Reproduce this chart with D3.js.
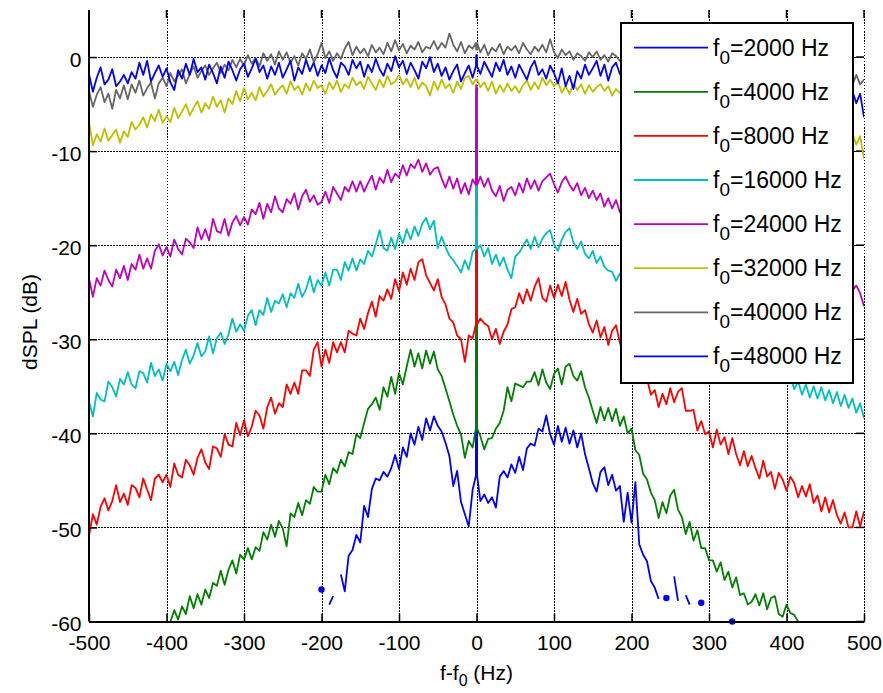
<!DOCTYPE html>
<html>
<head>
<meta charset="utf-8">
<script src="https://cdn.jsdelivr.net/npm/d3@7"></script>
<style>
  body { margin: 0; background: #fff; }
  text { font-family: Arial, "Liberation Sans", Helvetica, sans-serif; fill: #000; }
</style>
</head>
<body>
<svg id="chart" width="883" height="693"></svg>
<script>
// Sideband level relative to the carrier, sampled every 5 Hz around f0.
const freqStep = 5;
const carrierFreqs = ["2000", "4000", "8000", "16000", "24000", "32000", "40000", "48000"];
const seriesColors = ["#0000ff", "#008000", "#ff0000", "#00bfbf", "#bf00bf", "#bfbf00", "#666666", "#0000ff"];
// first frequency offset (Hz) of each series array
const seriesStart = [-200, -395, -500, -500, -500, -500, -500, -500];
// level of the carrier line at f - f0 = 0 (dB)
const carrierPeak = [-3.5, -3.5, -3.5, -3.5, -3.0, -2.5, 0.8, 0.2];

const spl2000 = [
  -56.6,null,-58.2,-57.3,null,-55.0,-56.8,-53.0,-52.4,-50.8,
  -51.6,-47.7,-48.9,-45.9,-44.8,-45.0,-44.1,-44.6,-43.7,-42.3,
  -43.8,-41.5,-42.5,-40.0,-41.2,-39.3,-40.7,-38.4,-39.7,-38.2,
  -39.2,-39.8,-41.0,-42.4,-45.6,-44.0,-47.3,-48.6,-49.9,-46.0,
  -44.5,-47.2,-46.5,-47.4,-46.8,-47.9,-44.6,-44.0,-44.7,-43.3,
  -44.2,-42.5,-43.9,-41.6,-41.1,-41.3,-39.5,-39.8,-38.1,-40.1,
  -41.2,-39.2,-40.9,-39.4,-41.1,-39.7,-41.5,-40.0,-42.2,-43.7,
  -45.3,-46.2,-44.1,-43.6,-45.5,-44.4,-46.1,-45.6,-49.4,-46.3,
  -49.5,-45.2,-51.8,-52.9,-53.6,-55.7,-56.4,-57.6,null,-57.5,
  null,-55.2,-57.8,null,-57.2,-58.2,null,null,-58.0,null,
  null,null,null,null,null,null,-60.0
];
const spl4000 = [
  -60.0,-58.8,-59.8,-58.4,-59.2,-57.3,-58.6,-57.1,-58.2,-56.6,
  -57.5,-55.9,-56.2,-54.6,-56.1,-54.5,-53.5,-54.9,-52.9,-53.4,
  -52.2,-53.4,-52.1,-52.5,-50.5,-51.3,-49.7,-51.0,-49.3,-50.1,
  -52.0,-48.5,-48.9,-47.4,-48.7,-47.1,-47.5,-45.7,-46.2,-46.2,
  -44.4,-45.4,-43.7,-44.2,-42.8,-43.5,-42.0,-42.2,-40.1,-40.5,
  -38.9,-37.4,-36.9,-36.2,-37.5,-35.1,-36.1,-34.0,-35.8,-33.6,
  -34.8,-32.9,-31.1,-32.9,-31.5,-33.1,-31.2,-32.6,-31.3,-33.2,
  -33.9,-35.2,-36.6,-38.0,-39.2,-40.1,-42.6,-40.8,-41.5,-39.5,
  -40.3,-41.7,-40.6,-40.5,-39.5,-38.9,-37.6,-35.1,-36.6,-34.7,
  -34.9,-35.1,-34.5,-34.5,-33.5,-34.9,-33.2,-34.6,-35.3,-33.7,
  -33.1,-34.8,-32.9,-32.6,-33.9,-34.4,-33.4,-35.1,-36.2,-37.6,
  -38.9,-37.2,-38.6,-37.3,-38.7,-37.4,-39.2,-38.2,-40.0,-39.5,
  -41.8,-42.3,-44.3,-44.9,-46.3,-47.1,-49.0,-47.3,-48.5,-46.6,
  -46.0,-48.1,-48.9,-50.7,-49.4,-51.4,-50.3,-52.2,-52.2,-53.5,
  -53.5,-54.7,-53.7,-55.6,-54.7,-56.4,-55.3,-57.2,-57.0,-58.2,
  -57.9,-57.1,-58.3,-57.0,-58.7,-57.5,-57.3,-59.2,-59.5,-58.2,
  -59.1,-59.3,-60.0
];
const spl8000 = [
  -50.9,-48.6,-49.7,-47.8,-46.9,-48.2,-47.2,-45.5,-47.3,-46.4,
  -47.6,-45.5,-45.8,-46.8,-44.8,-46.0,-47.1,-44.8,-44.4,-45.2,
  -44.4,-45.7,-43.2,-44.4,-44.7,-42.8,-43.4,-44.4,-42.6,-41.7,
  -43.1,-43.8,-41.4,-41.6,-42.5,-40.1,-41.2,-41.4,-38.9,-40.2,
  -38.6,-40.3,-39.3,-37.6,-38.1,-39.5,-37.2,-36.2,-37.9,-36.8,
  -37.2,-34.8,-35.8,-34.6,-35.8,-33.3,-33.3,-33.9,-31.1,-30.3,
  -32.9,-31.1,-32.5,-30.3,-31.4,-30.3,-31.4,-29.1,-29.4,-29.6,
  -27.8,-28.9,-27.2,-26.0,-27.6,-25.4,-25.9,-24.7,-25.7,-23.6,
  -24.9,-22.9,-24.2,-22.5,-23.7,-21.8,-21.5,-23.2,-24.0,-24.8,
  -23.6,-25.5,-26.3,-27.8,-28.2,-29.6,-30.0,-32.4,-29.6,-29.9,
  -28.4,-27.8,-28.3,-28.6,-30.0,-28.9,-30.5,-29.2,-28.4,-26.8,
  -26.6,-25.1,-26.2,-24.7,-25.9,-24.4,-23.5,-25.6,-26.0,-24.3,
  -25.6,-24.2,-25.4,-23.9,-25.8,-27.1,-25.7,-27.3,-26.9,-28.4,
  -29.3,-28.0,-29.8,-28.7,-30.6,-29.1,-28.5,-30.4,-31.2,-32.0,
  -31.8,-33.1,-33.2,-34.0,-34.2,-35.9,-35.4,-37.2,-35.8,-36.9,
  -35.2,-36.7,-35.6,-35.2,-37.6,-37.6,-37.5,-39.7,-38.7,-40.1,
  -39.8,-41.5,-39.6,-41.2,-40.4,-42.2,-40.5,-42.2,-43.4,-41.9,
  -43.5,-42.4,-43.7,-44.8,-42.9,-44.6,-44.1,-45.9,-44.2,-44.9,
  -46.1,-44.6,-45.3,-46.8,-45.6,-46.7,-45.4,-47.4,-46.6,-48.3,
  -46.8,-48.4,-47.1,-48.7,-49.6,-48.4,-50.0,-50.0,-48.3,-49.9,
  -48.3
];
const spl16000 = [
  -36.6,-38.2,-35.7,-36.4,-36.6,-34.5,-35.1,-36.1,-34.2,-34.8,
  -33.5,-34.8,-35.2,-33.4,-33.6,-34.6,-32.5,-33.9,-33.2,-34.4,
  -32.6,-33.4,-32.4,-33.8,-32.2,-31.1,-32.6,-31.7,-30.4,-31.8,
  -31.3,-29.7,-31.5,-29.9,-29.3,-30.5,-29.5,-27.8,-29.2,-28.4,
  -29.1,-27.5,-26.9,-28.5,-26.9,-27.4,-25.6,-27.1,-25.9,-26.2,
  -25.2,-26.6,-25.1,-25.6,-24.1,-25.5,-24.7,-23.3,-25.0,-23.7,
  -24.3,-22.9,-24.3,-22.6,-22.6,-23.7,-21.8,-22.7,-21.4,-22.7,
  -21.5,-22.0,-20.6,-21.2,-19.9,-18.4,-20.3,-20.6,-19.2,-20.4,
  -18.8,-19.8,-18.3,-19.4,-18.0,-19.0,-17.7,-17.1,-18.3,-17.4,
  -20.3,-19.1,-20.2,-21.1,-21.6,-22.2,-22.9,-21.6,-22.6,-20.7,
  -20.4,-20.0,-21.2,-20.3,-22.0,-21.0,-22.2,-21.3,-22.6,-23.5,
  -21.2,-20.8,-20.1,-19.4,-20.4,-19.1,-20.2,-19.3,-18.7,-18.4,
  -19.9,-20.6,-19.4,-18.6,-18.2,-19.7,-20.4,-19.6,-20.9,-21.4,
  -20.6,-21.9,-21.2,-22.3,-22.7,-22.8,-23.8,-23.0,-24.2,-23.5,
  -24.4,-24.1,-25.0,-24.6,-25.5,-25.2,-26.1,-25.7,-26.6,-26.2,
  -27.1,-26.7,-27.6,-27.3,-28.2,-27.8,-28.6,-28.3,-29.2,-28.8,
  -29.7,-29.4,-30.2,-29.8,-30.7,-30.4,-31.2,-30.9,-31.7,-31.4,
  -32.2,-31.9,-32.7,-32.4,-33.2,-32.8,-33.7,-33.3,-34.1,-33.8,
  -34.6,-34.0,-35.3,-34.5,-35.9,-34.8,-36.2,-35.0,-36.3,-35.1,
  -36.5,-35.4,-36.8,-35.6,-37.1,-35.9,-37.3,-36.3,-37.8,-36.8,
  -38.4
];
const spl24000 = [
  -23.5,-25.5,-23.5,-24.3,-22.7,-23.7,-24.4,-22.6,-23.5,-22.2,
  -23.7,-22.0,-22.6,-21.0,-22.5,-21.4,-22.5,-20.6,-19.9,-21.1,
  -20.2,-21.2,-19.4,-20.4,-21.0,-19.3,-19.7,-20.3,-18.1,-19.4,
  -18.3,-19.5,-17.2,-18.5,-18.7,-17.2,-19.0,-17.6,-16.9,-17.9,
  -17.0,-17.8,-16.2,-16.7,-15.5,-17.2,-15.6,-16.5,-14.8,-16.1,
  -16.5,-15.1,-15.6,-14.5,-16.2,-14.8,-14.1,-15.4,-14.7,-15.7,
  -15.4,-14.3,-15.5,-13.8,-14.5,-15.2,-13.8,-14.3,-13.2,-14.3,
  -13.2,-14.3,-13.4,-12.6,-14.1,-12.8,-13.4,-12.0,-13.3,-12.4,
  -12.8,-11.5,-12.6,-11.4,-11.8,-10.9,-12.2,-11.3,-12.5,-11.9,
  -11.7,-12.9,-13.9,-12.7,-14.0,-12.9,-14.5,-13.4,-14.6,-13.0,
  -13.6,-12.7,-13.8,-12.9,-14.2,-14.8,-13.7,-15.3,-14.1,-13.8,
  -14.7,-13.4,-14.4,-12.9,-14.0,-13.1,-14.2,-13.2,-12.8,-12.4,
  -13.5,-14.4,-13.3,-12.7,-13.6,-14.2,-13.4,-14.7,-13.9,-15.0,
  -14.2,-15.2,-14.5,-15.9,-15.0,-16.1,-15.2,-16.5,-15.8,-16.6,
  -16.2,-16.9,-16.5,-17.3,-16.9,-17.6,-17.2,-18.0,-17.6,-18.3,
  -17.9,-18.7,-18.3,-19.0,-18.6,-19.4,-19.0,-19.7,-19.3,-20.1,
  -19.6,-20.4,-20.0,-20.7,-20.3,-21.0,-20.6,-21.3,-20.9,-21.6,
  -21.2,-21.9,-21.5,-22.2,-21.8,-22.5,-22.1,-22.8,-22.4,-23.0,
  -22.6,-23.2,-22.9,-23.5,-23.1,-23.7,-23.3,-23.9,-23.5,-24.1,
  -23.7,-24.3,-23.9,-24.5,-24.0,-24.6,-24.2,-24.8,-24.3,-25.1,
  -26.5
];
const spl32000 = [
  -6.9,-9.4,-8.2,-9.0,-7.6,-8.9,-8.3,-7.7,-9.1,-7.9,
  -8.5,-6.9,-7.7,-7.2,-6.4,-7.5,-6.1,-6.8,-5.6,-7.0,
  -6.3,-6.9,-5.4,-6.5,-5.8,-5.0,-6.2,-5.4,-4.7,-5.9,
  -4.9,-5.5,-4.2,-5.3,-4.6,-5.9,-4.4,-5.0,-3.6,-4.7,
  -3.3,-4.5,-3.8,-4.6,-3.2,-4.2,-3.6,-2.9,-4.0,-3.4,
  -3.0,-3.9,-2.6,-3.5,-3.1,-4.0,-2.8,-3.6,-2.5,-3.3,
  -3.0,-3.9,-2.7,-3.4,-2.5,-3.7,-2.9,-3.3,-2.2,-3.0,
  -2.6,-3.4,-2.1,-2.8,-3.5,-2.4,-3.2,-2.0,-2.9,-2.6,
  -1.9,-2.9,-2.3,-3.2,-2.2,-3.4,-2.7,-3.1,-4.1,-2.6,
  -3.5,-2.4,-3.3,-2.9,-3.8,-2.6,-3.4,-2.2,-2.0,-2.9,
  -2.4,-3.2,-2.7,-3.6,-2.6,-3.9,-3.0,-3.7,-2.8,-3.6,
  -3.1,-3.8,-3.0,-2.5,-3.5,-2.7,-3.4,-2.2,-3.0,-2.4,
  -3.1,-2.6,-3.8,-3.1,-3.9,-2.8,-3.5,-2.9,-3.9,-3.0,
  -3.7,-3.2,-2.9,-3.6,-3.1,-4.1,-3.4,-3.8,-3.6,-4.0,
  -3.7,-4.1,-3.8,-4.2,-3.9,-4.3,-4.0,-4.4,-4.1,-4.5,
  -4.2,-4.6,-4.3,-4.7,-4.4,-4.8,-4.5,-4.9,-4.6,-5.0,
  -4.7,-5.1,-4.8,-5.2,-4.9,-5.3,-5.0,-5.4,-5.1,-5.5,
  -5.2,-5.6,-5.4,-5.8,-5.5,-5.9,-5.7,-6.1,-5.8,-6.2,
  -6.0,-6.4,-6.1,-6.5,-6.3,-6.7,-6.4,-6.8,-6.6,-7.0,
  -6.7,-7.1,-6.9,-7.3,-7.0,-7.5,-7.3,-8.1,-9.3,-8.4,
  -10.8
];
const spl40000 = [
  -3.6,-5.3,-4.0,-3.2,-4.8,-3.9,-5.5,-3.5,-4.4,-3.0,
  -4.5,-2.9,-3.8,-2.5,-4.1,-3.3,-2.7,-4.4,-2.8,-2.2,
  -3.1,-1.7,-2.6,-2.0,-1.3,-2.8,-1.8,-1.0,-2.2,-1.5,
  -0.9,-1.9,-1.2,-0.6,-1.7,-0.8,-1.4,-0.3,-1.1,-0.2,
  -0.9,0.2,-0.7,-0.1,-1.0,0.4,-0.4,0.3,-0.8,0.6,
  -0.3,0.5,-0.6,0.1,-0.9,0.4,-0.2,0.8,-0.5,0.3,
  1.5,-0.1,0.6,-0.4,0.4,-0.2,0.9,1.6,0.2,1.1,
  0.4,0.9,0.1,1.3,0.5,1.0,0.3,1.5,0.6,1.8,
  0.7,1.4,0.4,1.2,0.8,1.6,0.5,1.1,0.9,1.7,
  0.8,1.5,1.0,2.5,1.3,0.6,1.6,0.4,1.2,0.9,
  1.5,0.5,1.3,0.2,1.0,0.6,1.4,0.3,1.1,0.7,
  1.2,0.4,1.5,0.8,0.3,1.1,0.6,1.3,0.5,1.9,
  0.5,-0.1,0.8,0.2,0.6,-0.3,0.4,0.1,-0.4,0.5,
  0.0,0.6,-0.3,0.2,-0.5,0.4,0.1,-0.4,0.1,-0.5,
  0.0,-0.6,-0.1,-0.7,-0.2,-0.8,-0.3,-0.9,-0.4,-1.0,
  -0.5,-1.1,-0.6,-1.2,-0.7,-1.3,-0.8,-1.4,-0.9,-1.5,
  -1.0,-1.6,-1.1,-1.7,-1.2,-1.8,-1.3,-1.9,-1.4,-2.0,
  -1.5,-2.1,-1.6,-2.2,-1.7,-2.3,-1.8,-2.4,-1.9,-2.5,
  -2.0,-2.6,-2.1,-2.7,-2.2,-2.8,-2.3,-2.9,-2.4,-3.0,
  -2.5,-3.1,-2.6,-3.2,-2.7,-3.3,-2.8,-3.0,-1.9,-2.9,
  -2.4
];
const spl48000 = [
  -1.8,-3.7,-2.2,-1.1,-2.9,-2.4,-1.3,-3.1,-2.6,-1.9,
  -2.8,-1.6,-2.3,-0.6,-1.9,-0.4,-2.6,-1.7,-0.9,-2.1,
  -1.2,-2.7,-3.5,-1.4,-2.3,-0.7,-1.9,-0.2,-1.6,-1.1,
  -2.4,-0.8,-1.7,-2.8,-1.0,-2.2,-0.5,-1.4,-2.5,-1.3,
  -0.7,-2.1,-1.2,-0.2,-1.6,-0.9,-2.3,-1.0,-1.9,-0.6,
  -2.2,-1.3,-0.4,-2.5,-1.1,-1.8,-0.3,-1.5,-0.6,-2.0,
  -0.9,-1.7,-0.1,-1.4,-2.2,-0.6,-1.0,-1.9,-0.3,-1.2,
  -0.5,-2.1,-0.8,-1.6,-0.2,-1.3,-2.0,-0.7,-1.5,0.1,
  -1.1,-0.4,-1.8,-0.6,-1.4,-2.3,-0.5,-1.2,0.0,-1.6,
  -0.7,-2.0,-1.1,-2.4,-1.5,-0.8,-2.6,-1.7,-0.9,-2.2,
  -1.0,-1.8,-0.5,-1.3,-2.1,-0.6,-1.5,-0.3,-1.9,-1.0,
  -2.2,-0.8,-1.6,-2.4,-1.1,-0.4,-1.9,-1.3,-2.3,-0.9,
  -1.7,-2.8,-1.2,-3.1,-2.0,-3.4,-1.5,-2.3,-0.8,-1.9,
  -1.2,-0.4,-2.0,-0.8,-2.5,-1.1,-0.6,-1.8,-1.0,-1.6,
  -1.6,-1.1,-1.7,-1.2,-1.8,-1.3,-1.9,-1.4,-2.0,-1.5,
  -2.1,-1.6,-2.2,-1.7,-2.3,-1.8,-2.4,-1.9,-2.5,-2.0,
  -2.6,-2.1,-2.7,-2.2,-2.8,-2.3,-2.9,-2.4,-3.0,-2.5,
  -3.1,-2.6,-3.2,-2.7,-3.3,-2.8,-3.4,-2.9,-3.5,-3.0,
  -3.6,-3.1,-3.7,-3.2,-3.8,-3.3,-3.9,-3.4,-4.0,-3.5,
  -4.1,-3.6,-4.2,-3.7,-4.3,-3.8,-4.4,-3.6,-4.9,-3.9,
  -6.4
];
const seriesValues = [spl2000, spl4000, spl8000, spl16000, spl24000, spl32000, spl40000, spl48000];

const xTicks = [-500, -400, -300, -200, -100, 0, 100, 200, 300, 400, 500];
const yTicks = [-60, -50, -40, -30, -20, -10, 0];

const svg = d3.select("#chart");
const plotLeft = 89, plotRight = 864, plotTop = 10, plotBottom = 621.5;
const x = d3.scaleLinear().domain([-500, 500]).range([plotLeft, plotRight]);
const y = d3.scaleLinear().domain([-60, 5]).range([plotBottom, plotTop]);
const crisp = v => Math.round(v) + 0.5;

// dotted grid
const grid = svg.append("g").attr("stroke", "#000").attr("stroke-width", 1)
  .attr("stroke-dasharray", "1.5,1.5").attr("shape-rendering", "crispEdges");
grid.selectAll("line.v").data(xTicks).join("line").attr("class", "v")
  .attr("x1", d => crisp(x(d))).attr("x2", d => crisp(x(d))).attr("y1", plotTop).attr("y2", plotBottom);
grid.selectAll("line.h").data(yTicks).join("line").attr("class", "h")
  .attr("x1", plotLeft).attr("x2", plotRight).attr("y1", d => crisp(y(d))).attr("y2", d => crisp(y(d)));

// inward ticks on the top and right edges
const edgeTicks = svg.append("g").attr("stroke", "#000").attr("stroke-width", 1.5);
edgeTicks.selectAll("line.t").data(xTicks).join("line").attr("class", "t")
  .attr("x1", d => x(d)).attr("x2", d => x(d)).attr("y1", plotTop).attr("y2", plotTop + 8);
edgeTicks.selectAll("line.r").data(yTicks).join("line").attr("class", "r")
  .attr("x1", plotRight - 8).attr("x2", plotRight).attr("y1", d => y(d)).attr("y2", d => y(d));

// curves
svg.append("defs").append("clipPath").attr("id", "plotClip")
  .append("rect").attr("x", plotLeft).attr("y", plotTop)
  .attr("width", plotRight - plotLeft).attr("height", plotBottom - plotTop);

// the carrier itself is a narrow line rising from the sideband floor at f - f0 = 0
function seriesPoints(i) {
  const pts = [];
  seriesValues[i].forEach((v, k) => {
    const f = seriesStart[i] + k * freqStep;
    if (f === 0 && v !== null) {
      const p = carrierPeak[i];
      pts.push({ f: -0.8, v }, { f: -0.4, v: p }, { f: 0.4, v: p }, { f: 0.8, v });
    } else {
      pts.push({ f, v });
    }
  });
  return pts;
}
const line = d3.line().defined(d => d.v !== null).x(d => x(d.f)).y(d => y(d.v));

const curves = svg.append("g");
seriesValues.forEach((vals, i) => {
  const pts = seriesPoints(i);
  curves.append("path").datum(pts)
    .attr("clip-path", "url(#plotClip)")
    .attr("fill", "none").attr("stroke", seriesColors[i])
    .attr("stroke-width", 1.8).attr("stroke-linejoin", "round")
    .attr("d", line);
  // samples with no drawn neighbour show as dots
  const lone = pts.filter((d, k) => d.v !== null &&
    (k === 0 || pts[k - 1].v === null) && (k === pts.length - 1 || pts[k + 1].v === null));
  curves.selectAll(null).data(lone).join("circle")
    .attr("cx", d => x(d.f)).attr("cy", d => y(d.v)).attr("r", 3.2)
    .attr("fill", seriesColors[i]);
});

// axes
const xAxis = svg.append("g").attr("transform", `translate(0,${plotBottom})`)
  .call(d3.axisBottom(x).tickValues(xTicks).tickFormat(d => String(d))
    .tickSizeInner(-8).tickSizeOuter(0).tickPadding(13.5));
const yAxis = svg.append("g").attr("transform", `translate(${plotLeft},0)`)
  .call(d3.axisLeft(y).tickValues(yTicks).tickFormat(d => String(d))
    .tickSizeInner(-8).tickSizeOuter(0).tickPadding(7.5));
[xAxis, yAxis].forEach(g => {
  g.select(".domain").attr("stroke", "#000").attr("stroke-width", 2);
  g.selectAll(".tick line").attr("stroke", "#000").attr("stroke-width", 1.5);
  g.selectAll(".tick text").attr("font-size", 21)
    .attr("font-family", "Arial, 'Liberation Sans', Helvetica, sans-serif").attr("fill", "#000");
});
yAxis.selectAll(".tick text").attr("dy", "0.45em");
yAxis.select(".domain").attr("d", `M0,${plotTop}V${plotBottom}`);

// axis titles
const xTitle = svg.append("text").attr("x", 476.5).attr("y", 680)
  .attr("text-anchor", "middle").attr("font-size", 21);
xTitle.append("tspan").text("f-f");
xTitle.append("tspan").text("0").attr("font-size", 16).attr("dy", 6);
xTitle.append("tspan").text(" (Hz)").attr("dy", -6);

svg.append("text").attr("transform", "translate(37,322) rotate(-90)")
  .attr("text-anchor", "middle").attr("font-size", 21).text("dSPL (dB)");

// legend
const lg = svg.append("g");
lg.append("rect").attr("x", 621).attr("y", 23).attr("width", 232).attr("height", 360)
  .attr("fill", "#fff").attr("stroke", "#000").attr("stroke-width", 2);
carrierFreqs.forEach((fq, i) => {
  const ry = 47.7 + i * 44.1;
  lg.append("line").attr("x1", 634).attr("x2", 708).attr("y1", ry).attr("y2", ry)
    .attr("stroke", seriesColors[i]).attr("stroke-width", 1.8);
  const t = lg.append("text").attr("x", 713).attr("y", ry + 8).attr("font-size", 23);
  t.append("tspan").text("f");
  t.append("tspan").text("0").attr("font-size", 19).attr("dy", 8);
  t.append("tspan").text(`=${fq} Hz`).attr("dy", -8);
});
</script>
</body>
</html>
